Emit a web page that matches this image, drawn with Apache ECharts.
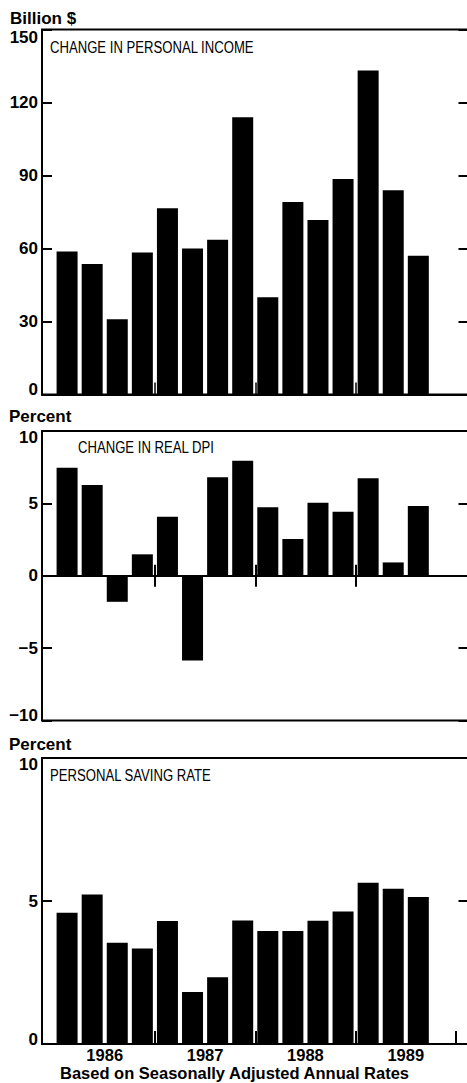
<!DOCTYPE html>
<html><head><meta charset="utf-8">
<script src="https://cdn.jsdelivr.net/npm/echarts@6/dist/echarts.min.js"></script>
<style>
html,body{margin:0;padding:0;background:#fff;overflow:hidden;width:467px;height:1083px}
#c{width:480px;height:1083px}
</style>
</head><body><div id="c"></div>
<script>
// ---- data ----
const quarters = ['1986 Q1','1986 Q2','1986 Q3','1986 Q4','1987 Q1','1987 Q2','1987 Q3','1987 Q4',
                  '1988 Q1','1988 Q2','1988 Q3','1988 Q4','1989 Q1','1989 Q2','1989 Q3'];
const years = ['1986','1987','1988','1989'];
const incomeChange  = [58.8, 53.6, 30.9, 58.4, 76.5, 60.0, 63.6, 113.9, 40.0, 79.1, 71.7, 88.6, 133.1, 83.9, 57.0];
const realDpiChange = [7.46, 6.27, -1.80, 1.48, 4.08, -5.85, 6.80, 7.95, 4.73, 2.54, 5.05, 4.42, 6.73, 0.92, 4.82];
const savingRate    = [4.59, 5.23, 3.54, 3.34, 4.30, 1.82, 2.33, 4.32, 3.95, 3.95, 4.31, 4.63, 5.64, 5.43, 5.14];
const incomeTicks = [0, 30, 60, 90, 120, 150];
const dpiTicks    = [-10, -5, 0, 5, 10];
const savingTicks = [0, 5, 10];

// ---- axis slots: half-quarter steps from one quarter before 1986 Q1 to 1990 Q1 ----
const NSLOT = 35;
const slots = Array.from({length: NSLOT}, (_, i) => 's' + i);
const slotOfQuarter = q => 2 * q + 2;
const yearLabelSlot = {};
years.forEach((y, i) => { yearLabelSlot[8 * i + 5] = y; });
const boundarySlots3 = years.map((y, i) => 8 * i + 9);
const boundarySlots2 = boundarySlots3.slice(0, 3);

function slotData(vals) {
  const d = new Array(NSLOT).fill('-');
  vals.forEach((v, q) => { d[slotOfQuarter(q)] = v; });
  return d;
}

const FONT = '"Liberation Sans", Arial, Helvetica, sans-serif';
const BLACK = '#000';

function fmtNum(v) { return v < 0 ? '\u2212' + Math.abs(v) : String(v); }
const labelFont = {color: BLACK, fontFamily: FONT, fontWeight: 'bold', fontSize: 17};

function yAxes(gi, ticks, topLineHeight) {
  const mn = ticks[0], mx = ticks[ticks.length - 1];
  const base = {
    type: 'value', gridIndex: gi, min: mn, max: mx,
    interval: ticks[1] - ticks[0], splitLine: {show: false},
    axisLine: {show: false},
    axisTick: {show: true, inside: true, length: 10, lineStyle: {color: BLACK, width: 2}}
  };
  return [
    // main left axis: ticks + labels (top label handled by the helper axis below)
    Object.assign({}, base, {position: 'left', axisLabel: Object.assign({show: true, margin: 4, lineHeight: 10,
      formatter: v => v === mx ? '' : (v === mn ? fmtNum(v) + '\n' : fmtNum(v))}, labelFont)}),
    // right axis: ticks only
    Object.assign({}, base, {position: 'right', axisLabel: {show: false}}),
    // helper left axis: only the top label, hanging below its tick
    Object.assign({}, base, {position: 'left', axisTick: {show: false}, axisLabel: Object.assign({show: true, margin: 4,
      lineHeight: topLineHeight, verticalAlign: 'top', formatter: v => v === mx ? fmtNum(v) : ''}, labelFont)})
  ];
}
function xAxis(gi, opts) {
  return Object.assign({
    type: 'category', gridIndex: gi, data: slots, boundaryGap: false, position: 'bottom',
    axisLine: {show: true, onZero: true, lineStyle: {color: BLACK, width: 2}},
    axisLabel: {show: false},
    splitLine: {show: false}
  }, opts);
}

const gridBase = {left: 42, width: 426.5, show: true, borderColor: BLACK, borderWidth: 2, backgroundColor: 'transparent'};

const option = {
  animation: false,
  backgroundColor: '#fff',
  grid: [
    Object.assign({}, gridBase, {top: 29.5, height: 365}),
    Object.assign({}, gridBase, {top: 431, height: 289.5}),
    Object.assign({}, gridBase, {top: 758, height: 286})
  ],
  xAxis: [
    xAxis(0, {axisTick: {show: true, inside: true, length: 12, interval: i => boundarySlots2.includes(i), lineStyle: {color: BLACK, width: 1.5}}}),
    xAxis(1, {axisTick: {show: true, inside: false, length: 11, interval: i => boundarySlots2.includes(i), lineStyle: {color: BLACK, width: 2}}}),
    xAxis(1, {axisLine: {show: false, onZero: true}, axisTick: {show: true, inside: true, length: 11, interval: i => boundarySlots2.includes(i), lineStyle: {color: BLACK, width: 2}}}),
    xAxis(2, {
      axisTick: {show: true, inside: true, length: 13, interval: i => boundarySlots3.includes(i), lineStyle: {color: BLACK, width: 2}},
      axisLabel: {show: true, interval: 0, margin: 4, color: BLACK, fontFamily: FONT, fontWeight: 'bold', fontSize: 16.5, lineHeight: 13,
                  formatter: (v, i) => yearLabelSlot[i] || ''}
    })
  ],
  yAxis: [].concat(yAxes(0, incomeTicks, 16), yAxes(1, dpiTicks, 12), yAxes(2, savingTicks, 12)),
  series: [
    {type: 'bar', name: 'Change in personal income', xAxisIndex: 0, yAxisIndex: 0, data: slotData(incomeChange), barWidth: 21, itemStyle: {color: BLACK}, silent: true},
    {type: 'bar', name: 'Change in real DPI', xAxisIndex: 1, yAxisIndex: 3, data: slotData(realDpiChange), barWidth: 21, itemStyle: {color: BLACK}, silent: true},
    {type: 'bar', name: 'Personal saving rate', xAxisIndex: 3, yAxisIndex: 6, data: slotData(savingRate), barWidth: 21, itemStyle: {color: BLACK}, silent: true}
  ],
  graphic: [
    {type: 'text', x: 10, y: 18.5, style: {text: 'Billion $', fill: BLACK, fontFamily: FONT, fontWeight: 'bold', fontSize: 17, verticalAlign: 'middle'}},
    {type: 'text', x: 9, y: 416.5, style: {text: 'Percent', fill: BLACK, fontFamily: FONT, fontWeight: 'bold', fontSize: 17, verticalAlign: 'middle'}},
    {type: 'text', x: 9, y: 744, style: {text: 'Percent', fill: BLACK, fontFamily: FONT, fontWeight: 'bold', fontSize: 17, verticalAlign: 'middle'}},
    {type: 'text', x: 50, y: 47.5, scaleX: 0.82, style: {text: 'CHANGE IN PERSONAL INCOME', fill: BLACK, fontFamily: FONT, fontSize: 16, verticalAlign: 'middle'}},
    {type: 'text', x: 78, y: 448, scaleX: 0.82, style: {text: 'CHANGE IN REAL DPI', fill: BLACK, fontFamily: FONT, fontSize: 16, verticalAlign: 'middle'}},
    {type: 'text', x: 50, y: 776, scaleX: 0.82, style: {text: 'PERSONAL SAVING RATE', fill: BLACK, fontFamily: FONT, fontSize: 16, verticalAlign: 'middle'}},
    {type: 'text', x: 234.5, y: 1072.5, style: {text: 'Based on Seasonally Adjusted Annual Rates', fill: BLACK, fontFamily: FONT, fontWeight: 'bold', fontSize: 16.5, lineHeight: 14, align: 'center', verticalAlign: 'middle'}}
  ]
};

const chart = echarts.init(document.getElementById('c'), null, {renderer: 'svg', width: 480, height: 1083});
chart.setOption(option);
</script>
</body></html>
